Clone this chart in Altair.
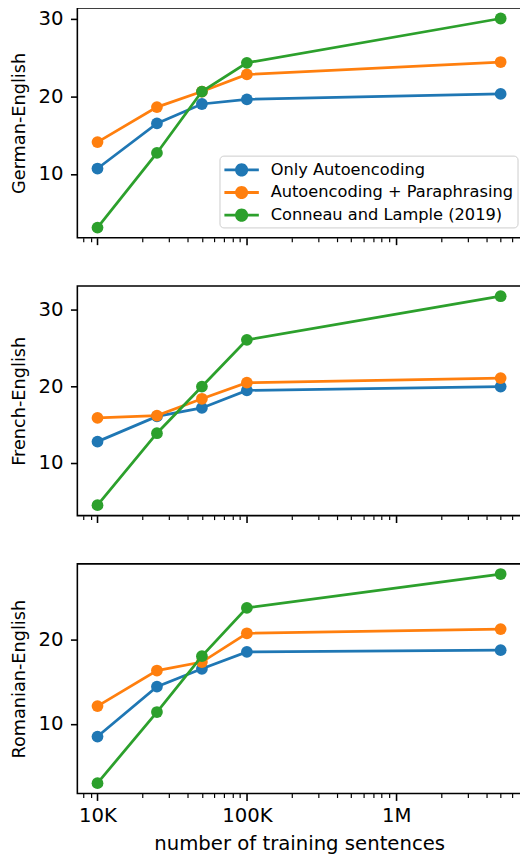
import altair as alt
import pandas as pd

sizes = [10000, 25000, 50000, 100000, 5000000]
series = ["Only Autoencoding", "Autoencoding + Paraphrasing", "Conneau and Lample (2019)"]
colors = ["#1f77b4", "#ff7f0e", "#2ca02c"]
pairs = ["German-English", "French-English", "Romanian-English"]

de_auto = [10.7, 16.5, 19.0, 19.6, 20.3]
de_para = [14.1, 18.6, 20.6, 22.8, 24.4]
de_xlm = [3.1, 12.7, 20.6, 24.3, 30.0]
fr_auto = [12.8, 16.1, 17.2, 19.5, 20.0]
fr_para = [15.9, 16.2, 18.4, 20.5, 21.1]
fr_xlm = [4.5, 13.9, 20.0, 26.1, 31.8]
ro_auto = [8.5, 14.4, 16.5, 18.5, 18.7]
ro_para = [12.1, 16.3, 17.3, 20.7, 21.2]
ro_xlm = [3.0, 11.4, 18.0, 23.7, 27.7]

table = {
    "German-English": [de_auto, de_para, de_xlm],
    "French-English": [fr_auto, fr_para, fr_xlm],
    "Romanian-English": [ro_auto, ro_para, ro_xlm],
}

y_domains = [[1.79, 31.34], [3.13, 33.14], [1.77, 28.9]]
y_ticks = [[10, 20, 30], [10, 20, 30], [10, 20]]
x_domain = [7330, 6840000]
x_major = [10000, 100000, 1000000]
x_minor = [8000, 9000,
           20000, 30000, 40000, 50000, 60000, 70000, 80000, 90000,
           200000, 300000, 400000, 500000, 600000, 700000, 800000, 900000,
           2000000, 3000000, 4000000, 5000000, 6000000]

rows = []
for p in pairs:
    for s, vals in zip(series, table[p]):
        for x, v in zip(sizes, vals):
            rows.append({"pair": p, "series": s, "n": x, "bleu": v})
df = pd.DataFrame(rows)

FONT = "DejaVu Sans"
major_test = "datum.value == 10000 || datum.value == 100000 || datum.value == 1000000"
label_expr = ("datum.value == 10000 ? '10K' : datum.value == 100000 ? '100K' : "
              "datum.value == 1000000 ? '1M' : ''")

# legend glyph: line segment with a dot, in a 21px nominal symbol box
legend_path = ("M-1.667,-0.143 L1.667,-0.143 L1.667,0.143 L-1.667,0.143 Z "
               "M0.633,0 A0.633,0.633 0 1,1 -0.633,0 A0.633,0.633 0 1,1 0.633,0 Z")

color_scale = alt.Scale(domain=series, range=colors)


def panel(i, p):
    last = i == len(pairs) - 1
    xaxis = alt.Axis(
        values=x_major + x_minor,
        labels=last,
        labelExpr=label_expr,
        labelOverlap=False,
        labelFlush=False,
        labelFontSize=20,
        labelFont=FONT,
        labelColor="black",
        labelPadding=5.5,
        tickSize={"condition": {"test": major_test, "value": 7}, "value": 4},
        tickWidth={"condition": {"test": major_test, "value": 1.6}, "value": 1.2},
        tickColor="black",
        domain=False,
        grid=False,
        title="number of training sentences" if last else None,
        titleFontSize=20,
        titleFont=FONT,
        titleFontWeight="normal",
        titleColor="black",
        titlePadding=8,
    )
    yaxis = alt.Axis(
        values=y_ticks[i],
        labelFontSize=20,
        labelFont=FONT,
        labelColor="black",
        labelPadding=7.5,
        tickSize=7,
        tickWidth=1.6,
        tickColor="black",
        domain=False,
        grid=False,
        title=p,
        titleFontSize=18,
        titleFont=FONT,
        titleFontWeight="normal",
        titleColor="black",
        titlePadding=9.5,
    )
    if i == 0:
        leg = alt.Legend(
            orient="none", legendX=144.5, legendY=150, title=None,
            padding=4, strokeColor="#cccccc", fillColor="rgba(255,255,255,0.8)",
            cornerRadius=4, labelFontSize=16.5, labelFont=FONT, labelColor="black",
            symbolType=legend_path, symbolSize=441, symbolStrokeWidth=0,
            symbolOpacity=1, symbolOffset=8, labelOffset=19, labelLimit=0,
            rowPadding=4,
        )
    else:
        leg = None
    base = alt.Chart(df).transform_filter(alt.datum.pair == p)
    layers = []
    for s in series:
        enc = dict(
            x=alt.X("n:Q", scale=alt.Scale(type="log", domain=x_domain, nice=False), axis=xaxis),
            y=alt.Y("bleu:Q", scale=alt.Scale(domain=y_domains[i], nice=False, zero=False), axis=yaxis),
            color=alt.Color("series:N", scale=color_scale, legend=leg),
        )
        sub = base.transform_filter(alt.datum.series == s)
        layers.append(sub.mark_line(strokeWidth=2.8).encode(**enc))
        layers.append(sub.mark_point(filled=True, size=143, opacity=1).encode(**enc))
    return alt.layer(*layers).properties(width=451, height=233.5)


chart = alt.vconcat(*[panel(i, p) for i, p in enumerate(pairs)], spacing=38.5).resolve_legend(
    color="independent"
).properties(
    padding={"left": 1.5, "top": -8, "right": -2, "bottom": 0}
).configure(
    font=FONT
).configure_view(
    stroke="black", strokeWidth=1.6
)

chart.save("out.html", embed_options={"renderer": "svg", "actions": False})
